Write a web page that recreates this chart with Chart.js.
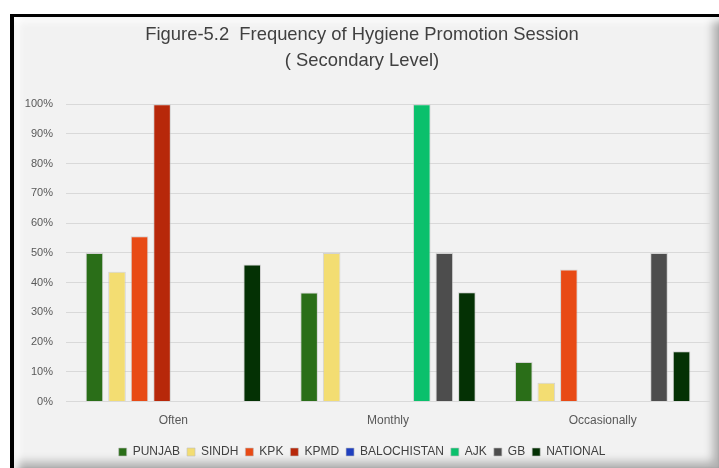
<!DOCTYPE html>
<html>
<head>
<meta charset="utf-8">
<script src="https://cdn.jsdelivr.net/npm/chart.js@4"></script>
<style>
    body { margin: 0; background: #ffffff; }
    .frame { position: absolute; left: 10px; top: 14px; width: 720px; height: 460px; background: #000000; }
    .inner {
        position: absolute; left: 14px; top: 17px; width: 705px; height: 451px;
        background: #f2f2f2;
        box-shadow: inset 7px 7px 9px -3px #ffffff, inset -9px -9px 10px -3px rgba(0, 0, 0, 0.28), inset 1px 1px 3px rgba(0, 0, 0, 0.25);
    }
    .wrap { position: absolute; left: 0; top: 0; width: 719px; height: 468px; }
</style>
</head>
<body>
<div class="frame"></div>
<div class="inner"></div>
<div class="wrap"><canvas id="hygieneChart"></canvas></div>
<script>
// Frequency categories and share of schools per region (percent)
const categories = ['Often', 'Monthly', 'Occasionally'];
const punjab = [50, 36.7, 13.3];
const sindh = [43.7, 50, 6.3];
const kpk = [55.6, 0, 44.4];
const kpmd = [100, 0, 0];
const balochistan = [0, 0, 0];
const ajk = [0, 100, 0];
const gb = [0, 50, 50];
const national = [46.1, 36.8, 16.9];
const yTicks = [0, 10, 20, 30, 40, 50, 60, 70, 80, 90, 100];

const fontFamily = "'Liberation Sans', sans-serif";

function series(label, data, color) {
    return {
        label: label,
        data: data,
        backgroundColor: color,
        borderColor: 'rgba(190, 190, 190, 0.6)',
        borderWidth: 1,
        categoryPercentage: 0.84,
        barPercentage: 0.78
    };
}

const ctx = document.getElementById('hygieneChart').getContext('2d');
new Chart(ctx, {
    type: 'bar',
    data: {
        labels: categories,
        datasets: [
            series('PUNJAB', punjab, '#2a6e18'),
            series('SINDH', sindh, '#f3dd72'),
            series('KPK', kpk, '#e84a15'),
            series('KPMD', kpmd, '#b7280a'),
            series('BALOCHISTAN', balochistan, '#1f3fbf'),
            series('AJK', ajk, '#0ac06c'),
            series('GB', gb, '#4d4d4d'),
            series('NATIONAL', national, '#043104')
        ]
    },
    options: {
        responsive: true,
        maintainAspectRatio: false,
        animation: false,
        layout: {
            padding: { left: 14, right: 9, top: 17, bottom: 0 }
        },
        plugins: {
            title: {
                display: true,
                text: ['Figure-5.2  Frequency of Hygiene Promotion Session', '( Secondary Level)'],
                color: '#404040',
                font: { size: 18.4, family: fontFamily, weight: 'normal', lineHeight: 1.42 },
                padding: { top: 5, bottom: 30 }
            },
            legend: {
                position: 'bottom',
                labels: {
                    color: '#404040',
                    font: { size: 12, family: fontFamily },
                    boxWidth: 8,
                    boxHeight: 8,
                    padding: 7
                }
            },
            tooltip: { enabled: false }
        },
        scales: {
            x: {
                afterFit: function(scale) { scale.height += 7; },
                grid: { display: false },
                border: { display: false },
                ticks: {
                    color: '#595959',
                    font: { size: 12, family: fontFamily },
                    padding: 4
                }
            },
            y: {
                min: 0,
                max: 100,
                afterFit: function(scale) { scale.width = 52; },
                afterBuildTicks: function(scale) { scale.ticks = yTicks.map(v => ({ value: v })); },
                grid: { color: '#d9d9d9', lineWidth: 1, drawTicks: false },
                border: { display: false },
                ticks: {
                    color: '#595959',
                    font: { size: 11, family: fontFamily },
                    padding: 13,
                    callback: v => v + '%'
                }
            }
        }
    }
});
</script>
</body>
</html>
